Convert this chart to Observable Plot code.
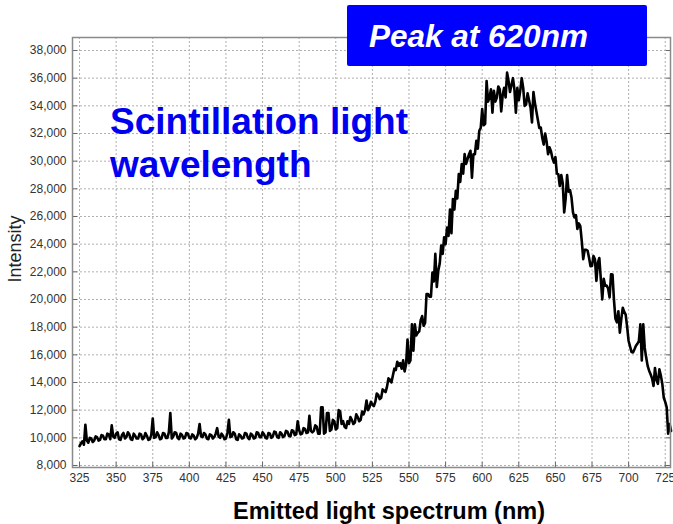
<!DOCTYPE html>
<html>
<head>
<meta charset="utf-8">
<script src="https://cdn.jsdelivr.net/npm/d3@7"></script>
<script src="https://cdn.jsdelivr.net/npm/@observablehq/plot@0.6"></script>
<style>
  html, body { margin: 0; padding: 0; background: #fff; }
  #chart { width: 673px; height: 524px; }
  svg { font-family: "Liberation Sans", Arial, Helvetica, sans-serif; }
</style>
</head>
<body>
<div id="chart"></div>
<script>
// ---- data (1 nm steps) ----
const wavelengths = [
  325,326,327,328,329,330,331,332,333,334, 335,336,337,338,339,340,341,342,343,344,
  345,346,347,348,349,350,351,352,353,354, 355,356,357,358,359,360,361,362,363,364,
  365,366,367,368,369,370,371,372,373,374, 375,376,377,378,379,380,381,382,383,384,
  385,386,387,388,389,390,391,392,393,394, 395,396,397,398,399,400,401,402,403,404,
  405,406,407,408,409,410,411,412,413,414, 415,416,417,418,419,420,421,422,423,424,
  425,426,427,428,429,430,431,432,433,434, 435,436,437,438,439,440,441,442,443,444,
  445,446,447,448,449,450,451,452,453,454, 455,456,457,458,459,460,461,462,463,464,
  465,466,467,468,469,470,471,472,473,474, 475,476,477,478,479,480,481,482,483,484,
  485,486,487,488,489,490,491,492,493,494, 495,496,497,498,499,500,501,502,503,504,
  505,506,507,508,509,510,511,512,513,514, 515,516,517,518,519,520,521,522,523,524,
  525,526,527,528,529,530,531,532,533,534, 535,536,537,538,539,540,541,542,543,544,
  545,546,547,548,549,550,551,552,553,554, 555,556,557,558,559,560,561,562,563,564,
  565,566,567,568,569,570,571,572,573,574, 575,576,577,578,579,580,581,582,583,584,
  585,586,587,588,589,590,591,592,593,594, 595,596,597,598,599,600,601,602,603,604,
  605,606,607,608,609,610,611,612,613,614, 615,616,617,618,619,620,621,622,623,624,
  625,626,627,628,629,630,631,632,633,634, 635,636,637,638,639,640,641,642,643,644,
  645,646,647,648,649,650,651,652,653,654, 655,656,657,658,659,660,661,662,663,664,
  665,666,667,668,669,670,671,672,673,674, 675,676,677,678,679,680,681,682,683,684,
  685,686,687,688,689,690,691,692,693,694, 695,696,697,698,699,700,701,702,703,704,
  705,706,707,708,709,710,711,712,713,714, 715,716,717,718,719,720,721,722,723,724,
  725,726,727,728,729
];
const intensities = [
  9400,9600,9750,9500,10950,9800,9650,10000,9950,9700, 9800,10100,10050,9800,9850,10200,10150,9900,9900,10300,
  10250,9900,10900,10100,10000,10300,10400,9900,9850,10200, 10350,9950,10050,10400,10250,9900,9850,10300,10150,9950,
  9950,10300,10250,9900,10000,10350,10150,9850,9900,10200, 11400,10000,10050,10400,10200,9900,9950,10350,10300,10000,
  10000,10400,11800,9950,10100,10400,10350,10000,9900,10300, 10200,9950,10000,10350,10300,10000,9950,10250,10150,9900,
  10000,10300,11000,10100,10050,10350,10250,9950,9900,10250, 10200,9950,10050,10300,10700,10100,10000,10300,10150,9900,
  9950,10350,11300,10050,10100,10400,10300,9900,9850,10250, 10150,9950,10000,10350,10300,10000,9900,10300,10200,9950,
  10000,10400,10350,10050,10050,10400,10250,10000,9950,10350, 10300,10000,10100,10450,10400,10050,10000,10400,10300,10050,
  10150,10500,10450,10150,10100,10550,10500,10200,10250,11200, 10550,10250,10300,10700,10650,10350,10400,11600,10500,10400,
  10500,10900,10800,10300,10300,12200,12200,10300,10400,11800, 11800,10500,10600,11300,11200,10600,10700,12000,11900,11000,
  11200,10800,10700,11200,11000,11500,11300,11000,11100,11700, 11500,11200,11300,11900,11700,12000,12700,12000,12200,12600,
  12400,12300,12600,13200,13100,12800,12900,13500,13400,13300, 13700,14300,14200,14000,14500,15000,14900,15500,15200,15400,
  15000,15600,14800,15300,17100,15400,15600,18200,16300,18200, 17400,17600,17700,18500,18800,18100,18300,20400,20400,20200,
  20200,21950,21300,23300,20900,22070,22600,23900,23300,24500, 24000,25200,24600,26500,24800,27260,26500,27860,27300,29060,
  28500,29790,29100,30510,29800,30150,30500,30750,28800,30500, 30500,31470,30900,32200,32400,33760,32600,32700,35800,34300,
  34600,35200,33500,35080,34300,34600,35400,35200,33600,34800, 35300,34600,36400,35800,35000,35500,36000,35200,33500,35300,
  34400,35100,36000,35300,34000,34100,34900,34400,33900,32800, 35000,34200,33600,33000,32400,32430,31700,31200,32000,31400,
  30500,31000,30700,30200,29900,30300,29100,29060,28200,29000, 28400,26290,27300,29000,27800,27900,27370,26300,25930,26100,
  25100,25500,25300,24240,22920,23600,23600,23520,23000,22400, 22430,23150,22900,21350,22660,23000,21500,20000,21500,21000,
  21000,20800,20150,21830,21800,19950,18600,18350,19150,17600, 18600,19400,19100,18900,18000,17000,16600,16200,16170,16400,
  16650,16800,17000,18200,15600,18200,16500,15800,15200,14850, 14600,14300,13750,15050,14200,13900,14950,14500,13900,12900,
  12600,12200,10300,11000,10500
];
const xTicks = [325,350,375,400,425,450,475,500,525,550,575,600,625,650,675,700,725];
const yTicks = [8000,10000,12000,14000,16000,18000,20000,22000,24000,26000,28000,30000,32000,34000,36000,38000];
const xDomain = [320.2, 728.6];
const yDomain = [7855, 38940];
const titleText = "Peak at 620nm";
const noteLines = ["Scintillation light", "wavelength"];
const xLabel = "Emitted light spectrum (nm)";
const yLabel = "Intensity";

const data = wavelengths.map((w, i) => ({w, v: intensities[i]}));

const chart = Plot.plot({
  width: 673,
  height: 524,
  marginLeft: 72,
  marginRight: 3,
  marginTop: 37,
  marginBottom: 57,
  style: {fontFamily: '"Liberation Sans", Arial, Helvetica, sans-serif', background: "#fff"},
  x: {domain: xDomain, label: null},
  y: {domain: yDomain, label: null},
  marks: [
    Plot.gridX(xTicks, {stroke: "#b0b0b0", strokeOpacity: 1, strokeDasharray: "2,2"}),
    Plot.gridY(yTicks, {stroke: "#b0b0b0", strokeOpacity: 1, strokeDasharray: "2,2"}),
    Plot.axisY(yTicks, {anchor: "left", tickSize: -5, tickPadding: 11, tickFormat: d3.format(","), fontSize: 12, color: "#333", stroke: "#666", label: null}),
    Plot.axisY(yTicks, {anchor: "right", tickSize: -5, tickFormat: () => "", stroke: "#666", label: null}),
    Plot.axisX(xTicks, {anchor: "bottom", tickSize: -5, tickPadding: 11, tickFormat: d => String(d), fontSize: 12, color: "#333", stroke: "#666", label: null}),
    Plot.line(data, {x: "w", y: "v", stroke: "#000", strokeWidth: 2.6, strokeLinejoin: "round"}),
    Plot.frame({stroke: "#8a8a8a", strokeWidth: 1.5})
  ]
});

document.getElementById("chart").appendChild(chart);

const svg = d3.select(chart);
// title box
svg.append("rect").attr("x", 347).attr("y", 5).attr("width", 300).attr("height", 61)
  .attr("rx", 2).attr("fill", "#0000ff");
svg.append("text").attr("x", 369).attr("y", 47).attr("text-anchor", "start")
  .attr("fill", "#fff").attr("font-size", 31.5).attr("font-weight", "bold").attr("font-style", "italic")
  .text(titleText);
// annotation
const note = svg.append("text").attr("text-anchor", "start").attr("fill", "#0000f0")
  .attr("font-size", 37).attr("font-weight", "bold");
noteLines.forEach((t, i) => note.append("tspan").attr("x", 110).attr("y", 134 + i * 43).text(t));
// axis labels
svg.append("text").attr("x", 389).attr("y", 519).attr("text-anchor", "middle")
  .attr("font-size", 23.5).attr("font-weight", "bold").attr("fill", "#000").text(xLabel);
svg.append("text").attr("transform", "translate(21,249) rotate(-90)").attr("text-anchor", "middle")
  .attr("font-size", 18).attr("fill", "#222").text(yLabel);
</script>
</body>
</html>
